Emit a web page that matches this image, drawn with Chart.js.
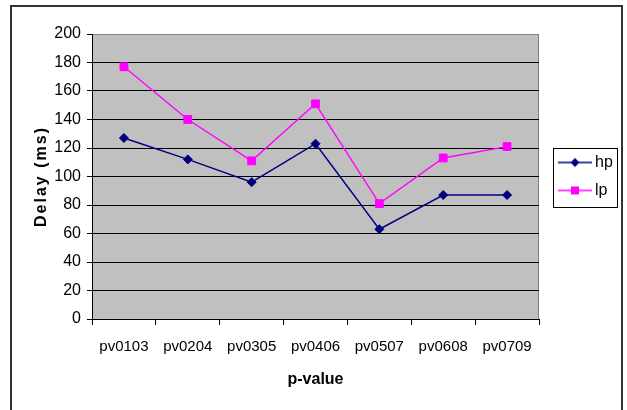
<!DOCTYPE html>
<html>
<head>
<meta charset="utf-8">
<script src="https://cdn.jsdelivr.net/npm/chart.js@4/dist/chart.umd.min.js"></script>
<style>
  html, body { margin: 0; padding: 0; background: #fff; }
  #wrap { width: 627px; height: 410px; }
</style>
</head>
<body>
<div id="wrap"><canvas id="c" width="627" height="410"></canvas></div>
<script>
// Delay per p-value setting, in milliseconds
const categories = ['pv0103', 'pv0204', 'pv0305', 'pv0406', 'pv0507', 'pv0608', 'pv0709'];
const hpDelay = [127, 112, 96, 123, 63, 87, 87];
const lpDelay = [177, 140, 111, 151, 81, 113, 121];
const yTickValues = [0, 20, 40, 60, 80, 100, 120, 140, 160, 180, 200];

const FONT = '"Liberation Sans", Arial, sans-serif';
const HP_COLOR = '#000080';
const LP_COLOR = '#FF00FF';

// Legend glyph: a short line with the series marker in its middle
function legendGlyph(color, marker) {
  const cv = document.createElement('canvas');
  cv.width = 46; cv.height = 14;
  const g = cv.getContext('2d');
  g.strokeStyle = color; g.fillStyle = color; g.lineWidth = 1.3;
  g.beginPath(); g.moveTo(12, 7); g.lineTo(46, 7); g.stroke();
  g.beginPath();
  if (marker === 'diamond') {
    g.moveTo(29, 2.5); g.lineTo(33.5, 7); g.lineTo(29, 11.5); g.lineTo(24.5, 7);
  } else {
    g.rect(25, 3, 8, 8);
  }
  g.closePath(); g.fill();
  return cv;
}

// Gray plot background with a gray frame, plus the outer chart border
const frames = {
  id: 'frames',
  beforeDraw(chart) {
    const { ctx, chartArea: a } = chart;
    ctx.save();
    ctx.fillStyle = '#C0C0C0';
    ctx.fillRect(a.left, a.top, a.right - a.left, a.bottom - a.top);
    ctx.strokeStyle = '#808080';
    ctx.lineWidth = 1;
    ctx.strokeRect(a.left + 0.5, a.top + 0.5, a.right - a.left - 1, a.bottom - a.top);
    ctx.strokeStyle = '#333';
    ctx.lineWidth = 2;
    ctx.strokeRect(11, 6, 611, 450);
    ctx.restore();
    // wider letter spacing for the vertical axis title
    const s = chart.scales.y;
    if (s && !s._spacedTitle) {
      const orig = s.drawTitle;
      s.drawTitle = function () {
        const c = this.ctx;
        const prev = c.letterSpacing;
        c.letterSpacing = '2px';
        orig.apply(this, arguments);
        c.letterSpacing = prev || '0px';
      };
      s._spacedTitle = true;
    }
  },
  afterDraw(chart) {
    const lg = chart.legend;
    if (!lg || !lg.legendHitBoxes || !lg.legendHitBoxes.length) return;
    const hb = lg.legendHitBoxes;
    const first = hb[0], last = hb[hb.length - 1];
    const { ctx } = chart;
    ctx.save();
    ctx.strokeStyle = '#000';
    ctx.lineWidth = 1;
    const x0 = Math.round(first.left + 2) + 0.5;
    const y0 = Math.round(first.top - 7) + 0.5;
    const x1 = Math.round(first.left + 66) + 0.5;
    const y1 = Math.round(last.top + last.height + 8) + 0.5;
    ctx.strokeRect(x0, y0, x1 - x0, y1 - y0);
    ctx.restore();
  }
};

new Chart(document.getElementById('c'), {
  type: 'line',
  data: {
    labels: categories,
    datasets: [
      {
        label: 'hp',
        data: hpDelay,
        borderColor: HP_COLOR,
        backgroundColor: HP_COLOR,
        borderWidth: 1.4,
        pointStyle: 'rectRot',
        pointRadius: 4.5,
        pointBorderWidth: 1,
        pointBackgroundColor: HP_COLOR,
        pointBorderColor: HP_COLOR,
        tension: 0,
        fill: false
      },
      {
        label: 'lp',
        data: lpDelay,
        borderColor: LP_COLOR,
        backgroundColor: LP_COLOR,
        borderWidth: 1.4,
        pointStyle: 'rect',
        pointRadius: 5.5,
        pointBorderWidth: 1,
        pointBackgroundColor: LP_COLOR,
        pointBorderColor: LP_COLOR,
        tension: 0,
        fill: false
      }
    ]
  },
  options: {
    responsive: false,
    animation: false,
    devicePixelRatio: 1,
    layout: { padding: { left: 28, top: 34, right: 13, bottom: 18 } },
    plugins: {
      tooltip: { enabled: false },
      legend: {
        display: true,
        position: 'right',
        align: 'center',
        fullSize: false,
        maxWidth: 75,
        labels: {
          usePointStyle: true,
          pointStyleWidth: 36,
          padding: 12,
          color: '#000',
          font: { family: FONT, size: 16 },
          generateLabels(chart) {
            return chart.data.datasets.map((ds, i) => ({
              text: ds.label,
              fillStyle: ds.borderColor,
              strokeStyle: ds.borderColor,
              lineWidth: 0,
              fontColor: '#000',
              hidden: false,
              datasetIndex: i,
              pointStyle: legendGlyph(ds.borderColor, i === 0 ? 'diamond' : 'square')
            }));
          }
        }
      }
    },
    scales: {
      x: {
        offset: true,
        afterFit(scale) { scale.height = 73; },
        grid: {
          offset: true,
          drawOnChartArea: false,
          drawTicks: true,
          tickLength: 6,
          tickColor: '#000',
          color: '#000'
        },
        border: { display: true, color: '#000', width: 1 },
        ticks: {
          color: '#000',
          padding: 13,
          maxRotation: 0,
          autoSkip: false,
          font: { family: FONT, size: 15 }
        },
        title: {
          display: true,
          text: 'p-value',
          color: '#000',
          font: { family: FONT, size: 16, weight: 'bold' },
          padding: { top: 4, bottom: 3 }
        }
      },
      y: {
        min: 0,
        max: 200,
        afterFit(scale) { scale.width = 64; },
        afterBuildTicks(scale) { scale.ticks = yTickValues.map(v => ({ value: v })); },
        grid: {
          color: (c) => (c.tick && c.tick.value === 200 ? '#808080' : '#000'),
          lineWidth: 1,
          drawTicks: true,
          tickLength: 5,
          tickColor: '#000'
        },
        border: { display: true, color: '#000', width: 1 },
        ticks: {
          color: '#000',
          padding: 6,
          font: { family: FONT, size: 16 }
        },
        title: {
          display: true,
          text: 'Delay (ms)',
          color: '#000',
          font: { family: FONT, size: 16, weight: 'bold' },
          padding: { top: 4, bottom: 4 }
        }
      }
    }
  },
  plugins: [frames]
});
</script>
</body>
</html>
